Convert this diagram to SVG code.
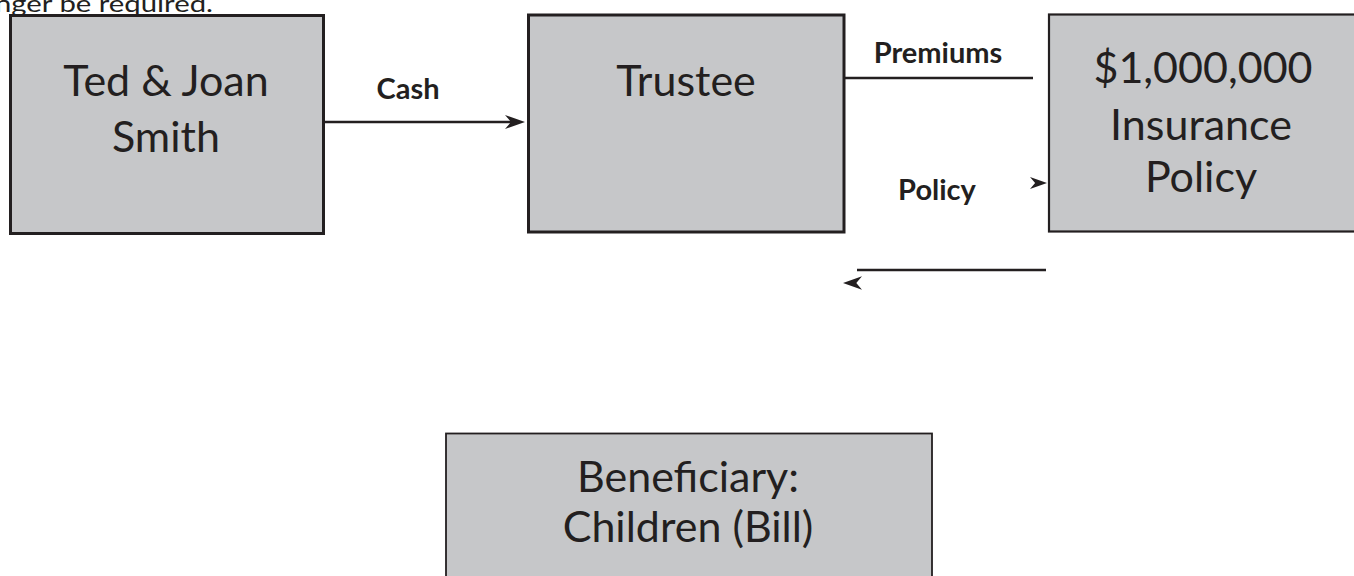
<svg xmlns="http://www.w3.org/2000/svg" xmlns:xlink="http://www.w3.org/1999/xlink" width="1354" height="576" viewBox="0 0 1354 576">
<style>
.box{fill:#c6c7c9;stroke:#231f20}
.big{font-family:Lato,"Open Sans",sans-serif;font-size:43px;fill:#231f20;text-anchor:middle}
.lbl{font-family:Lato,"Open Sans",sans-serif;font-size:29px;font-weight:bold;fill:#231f20;text-anchor:middle}
.ln{stroke:#231f20;stroke-width:2.6;fill:none}
.ah{fill:#231f20}
</style>
<defs>
<path id="head" d="M0,0 L-20,-7 L-14,0 L-20,7 Z"/>
</defs>
<rect width="1354" height="576" fill="#ffffff"/>
<text x="-5" y="12" textLength="218" lengthAdjust="spacingAndGlyphs" style="font-family:Lato,'Open Sans',sans-serif;font-size:24px;fill:#231f20">nger be required.</text>
<g id="node-smith">
<rect class="box" x="10.5" y="15.5" width="313" height="218" stroke-width="3"/>
<text class="big" x="166" y="96">Ted &amp; Joan</text>
<text class="big" x="166" y="152">Smith</text>
</g>
<g id="node-trustee">
<rect class="box" x="528.5" y="15" width="315.5" height="217" stroke-width="3"/>
<text class="big" x="686" y="96">Trustee</text>
</g>
<g id="node-policy">
<rect class="box" x="1049" y="14.5" width="320" height="217" stroke-width="2.2"/>
<text class="big" x="1203" y="83">$1,000,000</text>
<text class="big" x="1201" y="140">Insurance</text>
<text class="big" x="1201" y="192">Policy</text>
</g>
<g id="node-beneficiary">
<rect class="box" x="446" y="433.5" width="486" height="170" stroke-width="1.8"/>
<text class="big" x="688" y="492">Beneficiary:</text>
<text class="big" x="688" y="542">Children (Bill)</text>
</g>
<g id="connectors">
<line class="ln" x1="325" y1="122" x2="512" y2="122"/>
<use xlink:href="#head" class="ah" transform="translate(525,122)"/>
<text class="lbl" x="408" y="99">Cash</text>
<line class="ln" x1="845" y1="78" x2="1033" y2="78"/>
<text class="lbl" x="938" y="63">Premiums</text>
<use xlink:href="#head" class="ah" transform="translate(1047,183) scale(0.85)"/>
<text class="lbl" x="937" y="200">Policy</text>
<line class="ln" x1="857" y1="270" x2="1046" y2="270"/>
<use xlink:href="#head" class="ah" transform="translate(843,283) scale(-0.95,0.95)"/>
</g>
</svg>
